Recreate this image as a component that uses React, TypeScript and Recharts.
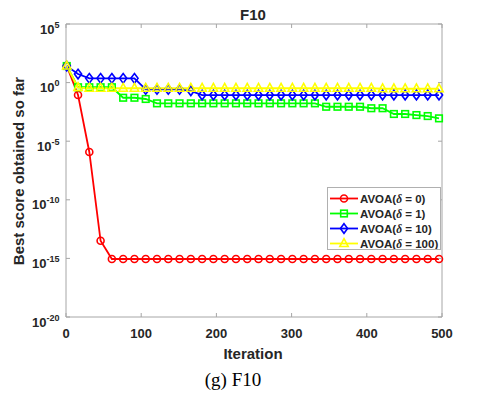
import { LineChart, Line, XAxis, YAxis } from 'recharts';

// iteration index of every plotted marker
const iterations = [
  1, 16, 31, 46, 61, 76, 91, 106, 121, 136, 151, 166, 181, 196, 211, 226, 241,
  256, 271, 286, 301, 316, 331, 346, 361, 376, 391, 406, 421, 436, 451, 466, 481, 496,
];

const avoaDelta0 = [
  26, 0.087, 1.2e-6, 3.2e-14, 8.9e-16, 8.9e-16, 8.9e-16, 8.9e-16, 8.9e-16, 8.9e-16,
  8.9e-16, 8.9e-16, 8.9e-16, 8.9e-16, 8.9e-16, 8.9e-16, 8.9e-16, 8.9e-16, 8.9e-16,
  8.9e-16, 8.9e-16, 8.9e-16, 8.9e-16, 8.9e-16, 8.9e-16, 8.9e-16, 8.9e-16, 8.9e-16,
  8.9e-16, 8.9e-16, 8.9e-16, 8.9e-16, 8.9e-16, 8.9e-16,
];

const avoaDelta1 = [
  26, 0.4, 0.4, 0.4, 0.4, 0.051, 0.051, 0.04, 0.017, 0.017, 0.017, 0.017, 0.017,
  0.017, 0.017, 0.017, 0.017, 0.017, 0.017, 0.017, 0.017, 0.017, 0.017, 0.0087,
  0.0087, 0.0087, 0.0087, 0.0065, 0.0065, 0.0021, 0.0021, 0.0017, 0.0014, 0.00089,
];

const avoaDelta10 = [
  26, 5.4, 2.3, 2.3, 2.3, 2.3, 2.3, 0.26, 0.26, 0.26, 0.26, 0.2, 0.087, 0.087, 0.087,
  0.087, 0.087, 0.087, 0.087, 0.087, 0.087, 0.087, 0.087, 0.087, 0.087, 0.087, 0.087,
  0.087, 0.087, 0.087, 0.087, 0.087, 0.087, 0.087,
];

const avoaDelta100 = [
  26, 0.38, 0.33, 0.33, 0.33, 0.33, 0.33, 0.33, 0.33, 0.33, 0.33, 0.33, 0.33, 0.33,
  0.33, 0.33, 0.33, 0.33, 0.33, 0.33, 0.33, 0.33, 0.33, 0.33, 0.33, 0.33, 0.33, 0.33,
  0.3, 0.3, 0.3, 0.3, 0.3, 0.3,
];

const xTicks = [0, 100, 200, 300, 400, 500];
const yTicks = [1e-20, 1e-15, 1e-10, 1e-5, 1, 1e5];

const series = [
  { key: 'd0', name: '0', color: '#ff0000', marker: 'circle' },
  { key: 'd1', name: '1', color: '#00ff00', marker: 'square' },
  { key: 'd10', name: '10', color: '#0000ff', marker: 'diamond' },
  { key: 'd100', name: '100', color: '#ffff00', marker: 'triangle' },
];

const chartData = iterations.map((iter, i) => ({
  iter,
  d0: avoaDelta0[i],
  d1: avoaDelta1[i],
  d10: avoaDelta10[i],
  d100: avoaDelta100[i],
}));

const FONT = '"Liberation Sans", Arial, sans-serif';
const AXIS = '#a6a6a6';
const LABEL = '#262626';

function markerShape(kind: string, cx: number, cy: number, color: string, key?: any) {
  const common = { fill: 'none', stroke: color, strokeWidth: 1.6 };
  if (kind === 'circle') return <circle key={key} cx={cx} cy={cy} r={3.5} {...common} />;
  if (kind === 'square') return <rect key={key} x={cx - 3.3} y={cy - 3.3} width={6.6} height={6.6} {...common} />;
  if (kind === 'diamond')
    return <path key={key} d={`M${cx},${cy - 4.8}L${cx + 3.6},${cy}L${cx},${cy + 4.8}L${cx - 3.6},${cy}Z`} {...common} />;
  return <path key={key} d={`M${cx},${cy - 4.8}L${cx + 4.2},${cy + 3}L${cx - 4.2},${cy + 3}Z`} {...common} />;
}

const BottomTick = ({ x, y, payload }: any) => (
  <g>
    <line x1={x} y1={y} x2={x} y2={y - 4} stroke={AXIS} />
    <text x={x} y={y + 20.5} textAnchor="middle" fontFamily={FONT} fontWeight="bold" fontSize={13} fill={LABEL}>
      {payload.value}
    </text>
  </g>
);

const TopTick = ({ x, y }: any) => <line x1={x} y1={y} x2={x} y2={y + 4} stroke={AXIS} />;

const LeftTick = ({ x, y, payload }: any) => {
  const exp = Math.round(Math.log10(payload.value));
  return (
    <g>
      <line x1={x} y1={y} x2={x + 4} y2={y} stroke={AXIS} />
      <text x={x - 6.5} y={y + 9.5} textAnchor="end" fontFamily={FONT} fontWeight="bold" fontSize={13} fill={LABEL}>
        10
        <tspan dy={-6} fontSize={9}>
          {exp}
        </tspan>
      </text>
    </g>
  );
};

const RightTick = ({ x, y }: any) => <line x1={x} y1={y} x2={x - 4} y2={y} stroke={AXIS} />;

const LegendBox = () => (
  <div
    style={{
      position: 'absolute',
      left: 327,
      top: 187,
      width: 114,
      height: 63,
      border: '1px solid #b0b0b0',
      background: '#fff',
      boxSizing: 'border-box',
    }}
  >
    <svg width={112} height={61} style={{ display: 'block' }}>
      {series.map((s, i) => {
        const cy = 10.5 + i * 15;
        return (
          <g key={s.key}>
            <line x1={2} y1={cy} x2={30} y2={cy} stroke={s.color} strokeWidth={1.8} />
            {markerShape(s.marker, 16, cy, s.color)}
            <text x={32} y={cy + 4} fontFamily={FONT} fontWeight="bold" fontSize={11.5} fill={LABEL}>
              AVOA(
              <tspan fontStyle="italic" fontFamily='"Liberation Serif", serif'>
                δ
              </tspan>
              {` = ${s.name})`}
            </text>
          </g>
        );
      })}
    </svg>
  </div>
);

export default function App() {
  return (
    <div style={{ position: 'absolute', left: 0, top: 0, width: 480, height: 397, background: '#fff' }}>
      <LineChart width={480} height={397} data={chartData} margin={{ top: 0, right: 0, bottom: 0, left: 0 }}>
        <XAxis
          dataKey="iter"
          type="number"
          domain={[0, 500]}
          ticks={xTicks}
          height={80}
          tickSize={0}
          tickMargin={0}
          tick={<BottomTick />}
          axisLine={{ stroke: AXIS }}
          interval={0}
        />
        <XAxis
          xAxisId="top"
          orientation="top"
          dataKey="iter"
          type="number"
          domain={[0, 500]}
          ticks={xTicks}
          height={24}
          tickSize={0}
          tickMargin={0}
          tick={<TopTick />}
          axisLine={{ stroke: AXIS }}
          interval={0}
        />
        <YAxis
          scale="log"
          domain={[1e-20, 1e5]}
          allowDataOverflow
          ticks={yTicks}
          width={66}
          tickSize={0}
          tickMargin={0}
          tick={<LeftTick />}
          axisLine={{ stroke: AXIS }}
          interval={0}
        />
        <YAxis
          yAxisId="right"
          orientation="right"
          scale="log"
          domain={[1e-20, 1e5]}
          allowDataOverflow
          ticks={yTicks}
          width={38}
          tickSize={0}
          tickMargin={0}
          tick={<RightTick />}
          axisLine={{ stroke: AXIS }}
          interval={0}
        />
        {series.map((s) => (
          <Line
            key={s.key}
            dataKey={s.key}
            name={s.name}
            type="linear"
            stroke={s.color}
            strokeWidth={1.8}
            isAnimationActive={false}
            dot={(p: any) => markerShape(s.marker, p.cx, p.cy, s.color, p.key ?? `${s.key}-${p.index}`)}
            activeDot={false}
          />
        ))}
      </LineChart>
      <LegendBox />
      <svg
        width={480}
        height={397}
        style={{ position: 'absolute', left: 0, top: 0, pointerEvents: 'none' }}
      >
        <text x={253} y={20} textAnchor="middle" fontFamily={FONT} fontWeight="bold" fontSize={15} fill={LABEL}>
          F10
        </text>
        <text x={253} y={358.5} textAnchor="middle" fontFamily={FONT} fontWeight="bold" fontSize={15} fill={LABEL}>
          Iteration
        </text>
        <text
          x={0}
          y={0}
          transform="translate(23.5,171) rotate(-90)"
          textAnchor="middle"
          fontFamily={FONT}
          fontWeight="bold"
          fontSize={15}
          fill={LABEL}
        >
          Best score obtained so far
        </text>
        <text x={233} y={386} textAnchor="middle" fontFamily='"Liberation Serif", "Times New Roman", serif' fontSize={19} fill="#000">
          (g) F10
        </text>
      </svg>
    </div>
  );
}
